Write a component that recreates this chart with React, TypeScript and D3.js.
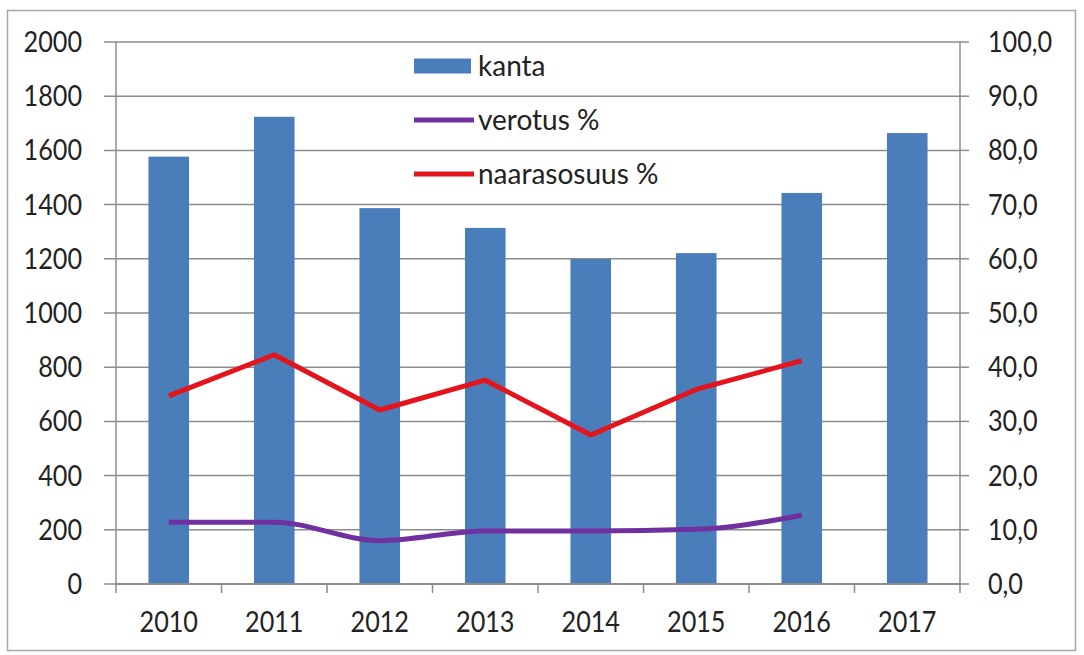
import * as d3 from "d3";

// data
const years = ["2010", "2011", "2012", "2013", "2014", "2015", "2016", "2017"];
const kanta = [1577, 1724, 1387, 1314, 1199, 1221, 1443, 1664];
const verotus = [11.4, 11.4, 8.0, 9.8, 9.8, 10.1, 12.7];
const naarasosuus = [34.7, 42.3, 32.1, 37.6, 27.5, 35.9, 41.2];
const leftTicks = [0, 200, 400, 600, 800, 1000, 1200, 1400, 1600, 1800, 2000];
const rightTicks = [0, 10, 20, 30, 40, 50, 60, 70, 80, 90, 100];

const width = 1084;
const height = 655;
const marginLeft = 116;
const marginRight = 124;
const marginTop = 42;
const marginBottom = 71;

const FONT = "Lato, 'Open Sans', sans-serif";
const BAR = "#4a7ebb";
const PURPLE = "#7030a0";
const RED = "#e3141c";
const GRID = "#8c8c8c";
const SQUEEZE = 0.9; // numbers in the picture are narrower than Lato

const Num = ({ x, y, anchor, children }: { x: number; y: number; anchor?: string; children: any }) => (
  <text
    transform={`translate(${x},${y}) scale(${SQUEEZE},1)`}
    textAnchor={anchor ?? "start"}
    fontFamily={FONT}
    fontSize={28}
    fill="#222"
  >
    {children}
  </text>
);

const App = () => {
  const x = d3.scaleBand().domain(years).range([marginLeft, width - marginRight]);
  const yL = d3.scaleLinear().domain([0, 2000]).range([height - marginBottom, marginTop]);
  const yR = d3.scaleLinear().domain([0, 100]).range([height - marginBottom, marginTop]);

  const bw = x.bandwidth() / 2.6;
  const cx = (y: string) => (x(y) ?? 0) + x.bandwidth() / 2;

  const line = d3
    .line<number>()
    .x((d, i) => cx(years[i]))
    .y((d) => yR(d));
  const smooth = d3
    .line<number>()
    .x((d, i) => cx(years[i]))
    .y((d) => yR(d))
    .curve(d3.curveMonotoneX);

  const x0 = marginLeft;
  const x1 = width - marginRight;
  const yBase = height - marginBottom;

  const legend = [
    { label: "kanta", kind: "bar", color: BAR },
    { label: "verotus %", kind: "line", color: PURPLE },
    { label: "naarasosuus %", kind: "line", color: RED },
  ];

  return (
    <svg width={width} height={height} style={{ display: "block", position: "absolute", left: 0, top: 0 }}>
      <rect x={0} y={0} width={width} height={height} fill="#fff" />
      <rect x={7.5} y={10.5} width={1068} height={640} fill="none" stroke="#a6a6a6" strokeWidth={1.5} />

      {/* gridlines + left ticks */}
      {leftTicks.map((t) => (
        <g key={"l" + t}>
          <line x1={x0 - 12} x2={x1} y1={yL(t)} y2={yL(t)} stroke={GRID} strokeWidth={1.5} />
          <Num x={82} y={yL(t) + 10} anchor="end">
            {t}
          </Num>
        </g>
      ))}

      {/* right ticks */}
      {rightTicks.map((t) => (
        <g key={"r" + t}>
          <line x1={x1} x2={x1 + 9} y1={yR(t)} y2={yR(t)} stroke={GRID} strokeWidth={1.5} />
          <Num x={988} y={yR(t) + 10}>
            {d3.format(".1f")(t).replace(".", ",")}
          </Num>
        </g>
      ))}

      {/* bars */}
      {kanta.map((v, i) => (
        <rect key={years[i]} x={cx(years[i]) - bw / 2} y={yL(v)} width={bw} height={yBase - yL(v)} fill={BAR} />
      ))}

      {/* axes */}
      <line x1={x0} x2={x0} y1={marginTop} y2={yBase} stroke={GRID} strokeWidth={1.5} />
      <line x1={x1} x2={x1} y1={marginTop} y2={yBase} stroke={GRID} strokeWidth={1.5} />
      <line x1={x0} x2={x1} y1={yBase} y2={yBase} stroke={GRID} strokeWidth={2} />
      {years.map((y) => (
        <line key={"t" + y} x1={x(y)} x2={x(y)} y1={yBase} y2={yBase + 9} stroke={GRID} strokeWidth={1.5} />
      ))}
      <line x1={x1} x2={x1} y1={yBase} y2={yBase + 9} stroke={GRID} strokeWidth={1.5} />
      {years.map((y) => (
        <Num key={"x" + y} x={cx(y)} y={632} anchor="middle">
          {y}
        </Num>
      ))}

      {/* lines */}
      <path d={smooth(verotus) ?? ""} fill="none" stroke={PURPLE} strokeWidth={5} strokeLinejoin="round" />
      <path d={line(naarasosuus) ?? ""} fill="none" stroke={RED} strokeWidth={5} strokeLinejoin="round" />

      {/* legend */}
      {legend.map((l, i) => {
        const ly = 66 + i * 54;
        return (
          <g key={l.label}>
            {l.kind === "bar" ? (
              <rect x={414} y={ly - 7.5} width={57} height={15} fill={l.color} />
            ) : (
              <line x1={414} x2={474} y1={ly} y2={ly} stroke={l.color} strokeWidth={5} />
            )}
            <text x={478} y={ly + 10} fontFamily={FONT} fontSize={28} fill="#222">
              {l.label}
            </text>
          </g>
        );
      })}
    </svg>
  );
};

export default App;
